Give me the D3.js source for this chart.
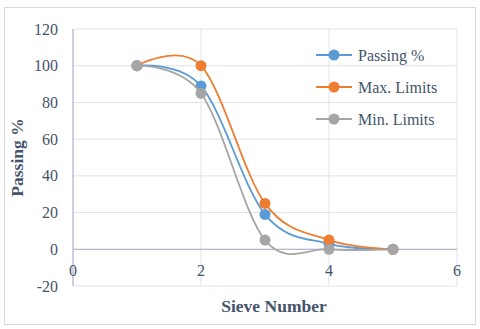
<!DOCTYPE html>
<html>
<head>
<meta charset="utf-8">
<script src="https://cdn.jsdelivr.net/npm/d3@7"></script>
<style>
  body { margin: 0; background: #fff; }
  text { font-family: "Liberation Serif", "Times New Roman", serif; fill: #44546a; }
</style>
</head>
<body>
<div id="chart"></div>
<script>
// sieve numbers and series values
const sieves = [1, 2, 3, 4, 5];
const passing = [100, 89, 19, 3, 0];
const maxLimits = [100, 100, 25, 5, 0];
const minLimits = [100, 85, 5, 0, 0];
const seriesNames = ["Passing %", "Max. Limits", "Min. Limits"];
const seriesColors = ["#5b9bd5", "#ed7d31", "#a5a5a5"];
const xTicks = [0, 2, 4, 6];
const yTicks = [-20, 0, 20, 40, 60, 80, 100, 120];

const W = 480, H = 329;
const margin = {top: 29, right: 23, bottom: 43, left: 73};
const width = W - margin.left - margin.right,
      height = H - margin.top - margin.bottom;

const svg = d3.select("#chart").append("svg")
    .attr("width", W).attr("height", H);

// chart frame
svg.append("rect")
    .attr("x", 4.5).attr("y", 7.5).attr("width", 471).attr("height", 317)
    .attr("fill", "#fff").attr("stroke", "#d9d9d9");

const g = svg.append("g")
    .attr("transform", "translate(" + margin.left + "," + margin.top + ")");

const x = d3.scaleLinear().domain([0, 6]).range([0, width]);
const y = d3.scaleLinear().domain([-20, 120]).range([height, 0]);

// gridlines
g.append("g").selectAll("line").data(yTicks).enter().append("line")
    .attr("x1", 0).attr("x2", width)
    .attr("y1", d => y(d)).attr("y2", d => y(d))
    .attr("stroke", "#dde3ec").attr("stroke-width", 1);
g.append("g").selectAll("line").data(xTicks).enter().append("line")
    .attr("y1", 0).attr("y2", height)
    .attr("x1", d => x(d)).attr("x2", d => x(d))
    .attr("stroke", "#dde3ec").attr("stroke-width", 1);

// axis lines
g.append("line").attr("x1", 0).attr("x2", width)
    .attr("y1", y(0)).attr("y2", y(0))
    .attr("stroke", "#b4bccb").attr("stroke-width", 1.2);
g.append("line").attr("x1", x(0)).attr("x2", x(0))
    .attr("y1", 0).attr("y2", height)
    .attr("stroke", "#b4bccb").attr("stroke-width", 1.2);

// tick labels
g.append("g").selectAll("text").data(yTicks).enter().append("text")
    .attr("x", -15).attr("y", d => y(d)).attr("dy", "0.35em")
    .attr("text-anchor", "end").style("font-size", "16px")
    .text(d => d);
g.append("g").selectAll("text").data(xTicks).enter().append("text")
    .attr("x", d => x(d)).attr("y", y(0) + 21).attr("dy", "0.35em")
    .attr("text-anchor", "middle").style("font-size", "16px")
    .text(d => d);

// axis titles
svg.append("text")
    .attr("transform", "translate(23," + (margin.top + y(50)) + ") rotate(-90)")
    .attr("text-anchor", "middle").style("font-size", "17.5px").style("font-weight", "bold")
    .text("Passing %");
svg.append("text")
    .attr("x", 274).attr("y", 312)
    .attr("text-anchor", "middle").style("font-size", "17.5px").style("font-weight", "bold")
    .text("Sieve Number");

// series
const allSeries = [passing, maxLimits, minLimits];
const line = d3.line()
    .x((d, i) => x(sieves[i]))
    .y(d => y(d))
    .curve(d3.curveCatmullRom.alpha(0));

// draw order: passing, max, min (min on top like the reference)
allSeries.forEach((vals, k) => {
    g.append("path").datum(vals)
        .attr("d", line)
        .attr("fill", "none")
        .attr("stroke", seriesColors[k])
        .attr("stroke-width", 1.8);
    g.append("g").selectAll("circle").data(vals).enter().append("circle")
        .attr("cx", (d, i) => x(sieves[i]))
        .attr("cy", d => y(d))
        .attr("r", 5.5)
        .attr("fill", seriesColors[k]);
});

// legend
const legend = svg.append("g").attr("transform", "translate(316,55)");
seriesNames.forEach((name, k) => {
    const row = legend.append("g").attr("transform", "translate(0," + (k * 32) + ")");
    row.append("line").attr("x1", 0).attr("x2", 36)
        .attr("y1", 0).attr("y2", 0)
        .attr("stroke", seriesColors[k]).attr("stroke-width", 1.8);
    row.append("circle").attr("cx", 18).attr("cy", 0).attr("r", 5.5)
        .attr("fill", seriesColors[k]);
    row.append("text").attr("x", 42).attr("y", 0).attr("dy", "0.35em")
        .style("font-size", "16px").text(name);
});
</script>
</body>
</html>
